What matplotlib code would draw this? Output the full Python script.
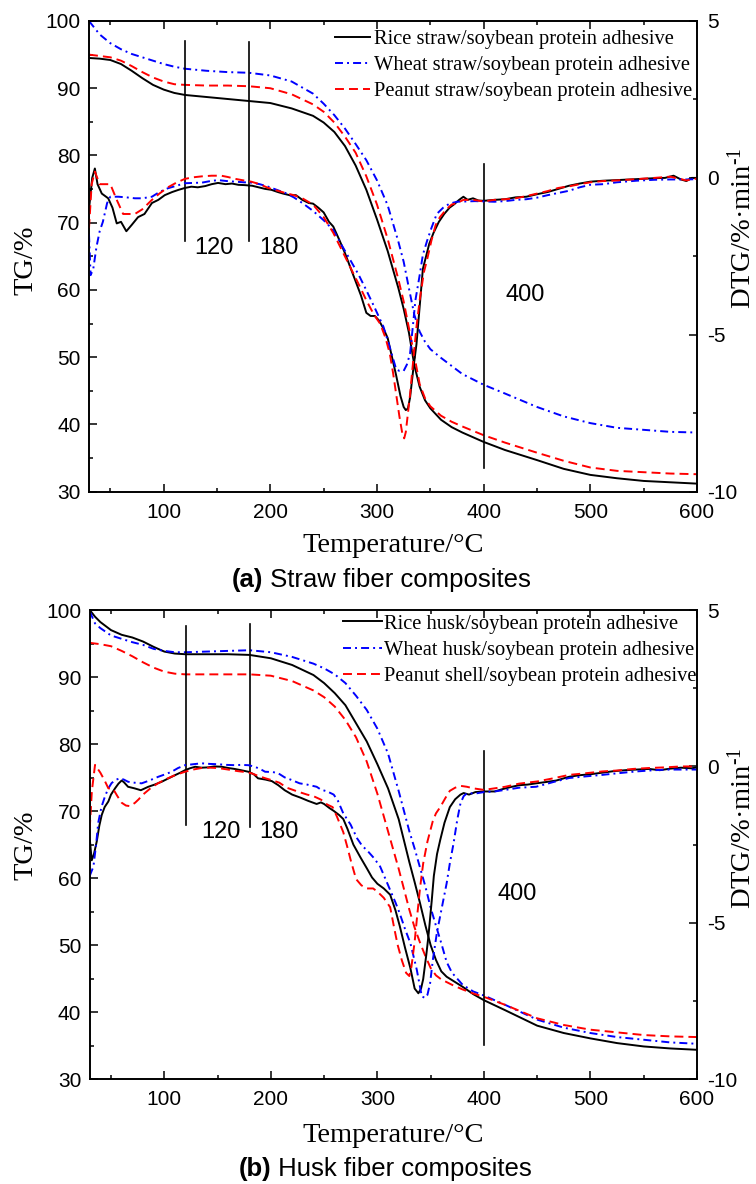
import matplotlib
matplotlib.use('Agg')
import matplotlib.pyplot as plt
from matplotlib.text import Annotation
from matplotlib.ticker import MultipleLocator

plt.rcParams['font.family'] = ['Liberation Sans', 'DejaVu Sans']
plt.rcParams['axes.unicode_minus'] = False
plt.rcParams['mathtext.fontset'] = 'custom'
plt.rcParams['mathtext.rm'] = 'Liberation Serif'
plt.rcParams['mathtext.it'] = 'Liberation Serif:italic'

# ---------------- (a) straw fibre composites ----------------
temp_tg_a = [30, 40, 50, 60, 70, 80, 90, 100, 110, 120, 140, 160, 180, 200, 220, 240, 250, 260, 270, 280,
             290, 300, 310, 320, 325, 330, 335, 340, 345, 350, 360, 370, 380, 400, 420, 450, 475, 500, 525,
             550, 575, 600]
rice_straw_tg = [94.5, 94.4, 94.2, 93.6, 92.6, 91.5, 90.5, 89.8, 89.3, 89.0, 88.7, 88.4, 88.1, 87.8, 87.0, 85.9,
                 84.9, 83.5, 81.4, 78.5, 74.9, 70.5, 65.8, 60.3, 57.2, 53.6, 48.8, 45.6, 43.6, 42.4, 40.7, 39.6,
                 38.8, 37.4, 36.2, 34.7, 33.4, 32.5, 32.0, 31.6, 31.4, 31.2]
wheat_straw_tg = [100.0, 98.0, 96.7, 95.8, 95.1, 94.6, 94.1, 93.6, 93.2, 92.9, 92.6, 92.4, 92.3, 91.9, 91.0, 89.2,
                  87.7, 86.0, 84.0, 81.7, 79.3, 76.3, 72.6, 67.2, 64.2, 60.2, 56.3, 53.8, 52.3, 51.2, 49.9, 48.7,
                  47.5, 45.9, 44.6, 42.6, 41.2, 40.2, 39.5, 39.2, 38.9, 38.8]
peanut_straw_tg = [95.0, 94.8, 94.6, 94.1, 93.3, 92.4, 91.6, 91.0, 90.6, 90.5, 90.4, 90.4, 90.3, 90.0, 89.1, 87.6,
                   86.5, 84.9, 82.8, 80.4, 76.9, 72.7, 67.6, 61.6, 58.3, 54.3, 50.2, 46.0, 43.9, 42.7, 41.3, 40.4,
                   39.7, 38.4, 37.3, 35.8, 34.6, 33.6, 33.1, 32.9, 32.7, 32.6]

temp_rice_straw_dtg = [30, 33, 35.5, 38, 42, 48, 52, 56, 60, 65, 70, 76, 82, 89, 95, 101, 108, 114, 120, 126,
                       132, 139, 145, 151, 158, 164, 170, 176, 183, 189, 195, 201, 207, 212, 218, 224, 230, 236,
                       240, 245, 250, 255, 259, 265, 270, 275, 280, 285, 290, 294, 298, 302, 306, 310, 314, 318,
                       322, 325, 327, 329, 331, 334, 337, 340, 343, 346, 349, 353, 358, 363, 368, 372, 377, 381,
                       385, 390, 395, 400, 410, 420, 430, 440, 450, 460, 470, 480, 490, 500, 512, 525, 543, 560,
                       570, 578, 585, 590, 595, 600]
rice_straw_dtg = [-1.0, 0.0, 0.3, -0.2, -0.5, -0.65, -0.95, -1.45, -1.4, -1.7, -1.5, -1.25, -1.15, -0.8, -0.7,
                  -0.55, -0.45, -0.38, -0.32, -0.28, -0.3, -0.26, -0.2, -0.16, -0.2, -0.18, -0.22, -0.23, -0.25,
                  -0.3, -0.35, -0.38, -0.45, -0.5, -0.55, -0.55, -0.7, -0.8, -0.82, -0.95, -1.1, -1.4, -1.55,
                  -2.0, -2.4, -2.85, -3.3, -3.75, -4.3, -4.4, -4.4, -4.55, -4.8, -5.1, -5.7, -6.3, -6.95, -7.3,
                  -7.4, -7.35, -7.0, -6.1, -5.3, -4.1, -2.9, -2.5, -2.1, -1.75, -1.4, -1.15, -0.95, -0.85, -0.7,
                  -0.6, -0.7, -0.65, -0.72, -0.73, -0.7, -0.68, -0.62, -0.6, -0.52, -0.45, -0.35, -0.25, -0.18,
                  -0.12, -0.09, -0.07, -0.04, -0.01, 0.0, 0.07, -0.05, -0.1, 0.0, 0.0]

temp_wheat_straw_dtg = [30, 31.5, 34, 37, 40, 43, 47, 50, 57.5, 65, 73, 80, 89, 96, 104, 112, 120, 128, 136, 144,
                        151, 159, 167, 175, 182, 190, 198, 206, 214, 222, 230, 240, 250, 259, 267, 275, 283, 290,
                        298, 306, 312, 318, 321, 325, 328, 331, 334, 336, 340, 343, 347, 351, 356, 362, 368, 375,
                        384, 392, 400, 410, 420, 430, 440, 450, 460, 470, 480, 490, 500, 512, 525, 543, 560, 575,
                        590, 600]
wheat_straw_dtg = [-1.8, -3.1, -2.9, -2.2, -1.7, -1.4, -0.8, -0.6, -0.6, -0.62, -0.65, -0.65, -0.6, -0.45, -0.33,
                   -0.25, -0.17, -0.16, -0.15, -0.1, -0.07, -0.1, -0.12, -0.14, -0.15, -0.2, -0.28, -0.38, -0.48,
                   -0.62, -0.8, -1.05, -1.35, -1.66, -2.15, -2.62, -3.1, -3.58, -4.15, -4.74, -5.4, -6.1, -6.15,
                   -6.15, -5.95, -5.6, -4.6, -3.9, -3.1, -2.45, -2.0, -1.6, -1.15, -0.95, -0.82, -0.76, -0.75,
                   -0.74, -0.75, -0.76, -0.74, -0.7, -0.68, -0.63, -0.55, -0.48, -0.41, -0.3, -0.22, -0.2, -0.14,
                   -0.09, -0.06, -0.05, -0.05, -0.04]

temp_peanut_straw_dtg = [30, 32.5, 35.5, 40, 50, 56, 62, 73, 80, 89, 96, 104, 112, 120, 128, 136, 145, 154, 160,
                         167, 175, 182, 190, 198, 206, 214, 222, 230, 240, 250, 259, 267, 275, 283, 290, 297, 303,
                         308, 312, 315, 318, 321, 324, 325.5, 327, 329, 331, 334, 337, 340, 344, 347, 351, 355, 359,
                         365, 370, 375, 381, 390, 400, 410, 420, 430, 440, 450, 460, 470, 480, 490, 500, 512, 525,
                         543, 560, 575, 585, 590, 600]
peanut_straw_dtg = [-1.6, -0.2, 0.2, -0.2, -0.2, -0.7, -1.15, -1.15, -1.0, -0.7, -0.5, -0.3, -0.15, -0.03, 0.02,
                    0.05, 0.07, 0.07, 0.03, -0.03, -0.08, -0.12, -0.2, -0.32, -0.4, -0.48, -0.55, -0.65, -0.85,
                    -1.25, -1.75, -2.3, -2.85, -3.4, -3.9, -4.35, -4.65, -5.1, -5.6, -6.2, -6.9, -7.6, -8.2, -8.3,
                    -8.1, -7.5, -6.9, -5.8, -4.75, -3.9, -3.0, -2.6, -2.0, -1.5, -1.25, -1.0, -0.85, -0.8, -0.7,
                    -0.7, -0.75, -0.7, -0.68, -0.65, -0.58, -0.5, -0.42, -0.32, -0.27, -0.2, -0.14, -0.1, -0.08,
                    -0.04, 0.0, 0.04, -0.04, -0.08, -0.02]

# ---------------- (b) husk fibre composites ----------------
temp_tg_b = [30, 35, 40, 50, 60, 70, 80, 90, 100, 110, 120, 140, 160, 180, 200, 220, 240, 250, 260, 270, 280, 290,
             300, 310, 320, 330, 335, 340, 345, 350, 355, 360, 365, 370, 380, 390, 400, 420, 450, 475, 500, 525,
             550, 575, 600]
rice_husk_tg = [100.0, 99.0, 98.2, 97.0, 96.3, 95.9, 95.3, 94.5, 93.8, 93.5, 93.4, 93.4, 93.4, 93.3, 92.8, 91.8,
                90.3, 89.1, 87.6, 85.8, 83.1, 80.4, 77.0, 73.4, 68.8, 62.4, 59.4, 56.3, 53.0, 50.0, 47.8, 46.1,
                45.3, 44.8, 43.8, 42.7, 41.8, 40.3, 38.0, 36.9, 36.1, 35.4, 34.9, 34.6, 34.4]
wheat_husk_tg = [99.8, 98.0, 97.3, 96.2, 95.7, 95.2, 94.8, 94.2, 93.9, 93.7, 93.7, 93.8, 93.9, 94.0, 93.7, 93.0,
                 92.0, 91.3, 90.4, 89.1, 87.2, 85.1, 82.3, 78.6, 73.0, 67.0, 64.4, 61.6, 58.8, 55.6, 52.9, 50.3,
                 47.5, 45.9, 44.1, 43.1, 42.5, 41.1, 38.9, 37.7, 36.9, 36.3, 35.9, 35.5, 35.3]
peanut_shell_tg = [95.1, 95.0, 94.9, 94.6, 93.9, 93.1, 92.2, 91.4, 90.8, 90.5, 90.4, 90.4, 90.4, 90.4, 90.2, 89.4,
                   88.0, 87.0, 85.6, 83.6, 81.0, 77.4, 72.6, 67.0, 61.4, 55.3, 52.6, 50.4, 48.4, 46.6, 45.5, 44.9,
                   44.5, 44.1, 43.4, 42.8, 42.3, 41.1, 39.1, 38.1, 37.4, 37.0, 36.6, 36.4, 36.3]

temp_rice_husk_dtg = [30, 31.9, 34, 36.6, 39, 41.3, 44, 47.5, 50, 53.8, 57, 60, 62, 66, 72, 78, 85, 91, 97.5, 104,
                      110, 115, 119.5, 124, 129, 135, 141, 147, 154, 160, 166, 172, 179, 184, 188, 195, 201, 207,
                      213, 220, 228, 235, 243, 247, 250, 255, 259, 264, 268, 272, 277.5, 284, 290, 295, 300, 306,
                      312, 317, 321, 326, 331, 335, 338.5, 341, 343, 346, 348, 351, 353, 356, 359, 363, 368, 373,
                      378, 381, 386, 392, 400, 410, 418, 425, 433, 441, 449, 458, 468, 480, 490, 500, 511, 522,
                      533, 543, 555, 565, 575, 585, 595, 600]
rice_husk_dtg = [-2.3, -3.0, -2.8, -2.4, -1.9, -1.55, -1.3, -1.12, -0.9, -0.7, -0.55, -0.45, -0.5, -0.65, -0.7,
                 -0.76, -0.65, -0.58, -0.49, -0.38, -0.28, -0.2, -0.12, -0.06, -0.01, -0.04, -0.03, 0.0, -0.01,
                 -0.05, -0.08, -0.12, -0.17, -0.25, -0.38, -0.42, -0.47, -0.6, -0.76, -0.9, -1.0, -1.1, -1.2,
                 -1.15, -1.2, -1.33, -1.42, -1.55, -1.68, -2.0, -2.5, -2.9, -3.25, -3.55, -3.75, -3.9, -4.1, -4.6,
                 -5.1, -5.8, -6.45, -7.1, -7.25, -7.1, -6.8, -6.0, -5.4, -4.3, -3.5, -2.8, -2.35, -1.8, -1.3,
                 -1.05, -0.9, -0.85, -0.9, -0.82, -0.8, -0.8, -0.72, -0.66, -0.6, -0.58, -0.54, -0.5, -0.45, -0.33,
                 -0.28, -0.25, -0.2, -0.15, -0.12, -0.1, -0.08, -0.12, -0.07, -0.04, -0.06, -0.03]

temp_wheat_husk_dtg = [30, 33.5, 36, 38, 41, 44.4, 47.5, 50.6, 55, 58.4, 62, 66, 72, 78.8, 86, 94.4, 101, 106.9,
                       113, 119.5, 127, 135, 143, 150.7, 158, 166.4, 172, 178.9, 184, 190, 194.6, 202, 207, 213,
                       218.5, 227, 234, 243, 247, 253, 259, 263, 268, 274.9, 281, 286, 290, 296.8, 302.6, 307, 312,
                       317, 321, 326, 331, 337, 341.7, 344.8, 347, 349.5, 352, 355.8, 360, 365, 368, 371.5, 375,
                       378, 381, 384, 393, 400, 410, 420, 433, 449, 465, 480, 495, 511, 525, 543, 560, 574, 590, 600]
wheat_husk_dtg = [-3.5, -3.2, -2.5, -1.8, -1.3, -0.95, -0.7, -0.53, -0.42, -0.38, -0.42, -0.49, -0.52, -0.54,
                  -0.45, -0.33, -0.25, -0.17, -0.05, 0.04, 0.07, 0.1, 0.08, 0.07, 0.05, 0.04, 0.05, 0.04, 0.0,
                  -0.08, -0.17, -0.18, -0.22, -0.35, -0.42, -0.54, -0.58, -0.65, -0.74, -0.8, -0.9, -1.1, -1.5,
                  -1.86, -2.3, -2.55, -2.67, -2.93, -3.2, -3.55, -3.95, -4.35, -4.7, -5.2, -5.65, -6.5, -7.35,
                  -7.4, -7.3, -6.93, -6.2, -5.33, -4.6, -3.74, -3.1, -2.46, -1.7, -1.18, -0.95, -0.86, -0.86,
                  -0.82, -0.8, -0.75, -0.68, -0.65, -0.5, -0.37, -0.32, -0.27, -0.22, -0.16, -0.12, -0.1, -0.1,
                  -0.1]

temp_peanut_shell_dtg = [30, 32, 35, 38, 40, 44, 47.5, 52, 56, 60, 64, 68, 72.6, 76, 80, 87, 94, 102, 110, 119.5,
                         127, 135, 143, 150, 160, 169, 176, 182, 188, 195, 202, 208, 215, 225, 234, 240, 247, 253,
                         258, 262, 268, 272, 275, 280, 285, 290, 296, 300, 306, 312, 316, 319, 323, 327, 330, 332,
                         335, 337, 340, 343, 347, 352, 355, 359, 364, 368, 373, 378, 384, 390, 400, 410, 420, 433,
                         450, 465, 480, 495, 511, 525, 540, 555, 570, 585, 600]
peanut_shell_dtg = [-2.0, -0.8, 0.05, -0.1, -0.2, -0.45, -0.7, -0.72, -0.95, -1.16, -1.25, -1.27, -1.16, -1.05,
                    -0.9, -0.7, -0.54, -0.4, -0.28, -0.17, -0.1, -0.05, -0.04, -0.05, -0.1, -0.15, -0.18, -0.22,
                    -0.3, -0.38, -0.45, -0.52, -0.68, -0.8, -0.9, -0.95, -1.06, -1.22, -1.3, -1.6, -2.1, -2.6,
                    -3.0, -3.6, -3.8, -3.9, -3.9, -4.0, -4.2, -4.5, -5.2, -5.7, -6.2, -6.6, -6.7, -6.4, -5.6, -4.9,
                    -3.9, -3.1, -2.4, -1.75, -1.5, -1.3, -1.0, -0.78, -0.68, -0.62, -0.65, -0.7, -0.75, -0.7,
                    -0.65, -0.55, -0.48, -0.38, -0.27, -0.22, -0.16, -0.13, -0.08, -0.05, -0.03, 0.0, 0.0]

labels_a = ['Rice straw/soybean protein adhesive', 'Wheat straw/soybean protein adhesive',
            'Peanut straw/soybean protein adhesive']
labels_b = ['Rice husk/soybean protein adhesive', 'Wheat husk/soybean protein adhesive',
            'Peanut shell/soybean protein adhesive']

W, H = 756, 1184
fig = plt.figure(figsize=(W / 100, H / 100), dpi=100)

colors = ['black', 'blue', 'red']
styles = ['-', (0, (4.1, 2.1, 1.0, 2.1)), (0, (4.6, 2.6))]
serif = 'Liberation Serif'


def fx(px):
    return px / W


def fy(py):
    return 1 - py / H


def panel(rect, t_tg, tgs, t_dtgs, dtgs, labels, marks, texts, leg_anchor, hlen, hpad):
    ax = fig.add_axes(rect)
    ax2 = ax.twinx()
    lines = []
    for y, c, s, lab in zip(tgs, colors, styles, labels):
        l, = ax.plot(t_tg, y, color=c, linestyle=s, lw=1.4, label=lab)
        lines.append(l)
    for t, y, c, s in zip(t_dtgs, dtgs, colors, styles):
        ax2.plot(t, y, color=c, linestyle=s, lw=1.4)
    # marker lines at 120, 180 and 400 degC
    for x, y0, y1 in marks:
        ax.plot([x, x], [y0, y1], color='black', lw=1.2)
    for x, y, s in texts:
        ax.text(x, y, s, fontsize=17, ha='left', va='center')

    ax.set_xlim(30, 600)
    ax.set_ylim(30, 100)
    ax2.set_ylim(-10, 5)
    ax.xaxis.set_major_locator(MultipleLocator(100))
    ax.xaxis.set_minor_locator(MultipleLocator(50))
    ax.yaxis.set_major_locator(MultipleLocator(10))
    ax.yaxis.set_minor_locator(MultipleLocator(5))
    ax2.yaxis.set_major_locator(MultipleLocator(5))
    ax2.yaxis.set_minor_locator(MultipleLocator(2.5))
    ax.tick_params(which='both', direction='in', labelsize=15, width=1.1, top=True)
    ax.tick_params(which='major', length=5.5)
    ax.tick_params(which='minor', length=3)
    ax.tick_params(axis='x', pad=8)
    ax.tick_params(axis='y', pad=6)
    ax2.tick_params(which='both', direction='in', labelsize=15, width=1.1, pad=7)
    ax2.tick_params(which='major', length=5.5)
    ax2.tick_params(which='minor', length=3)
    for a in (ax, ax2):
        for sp in a.spines.values():
            sp.set_linewidth(1.2)

    ax.legend(handles=lines, loc='upper left', bbox_to_anchor=leg_anchor, frameon=False,
              prop={'family': serif, 'size': 14.8}, handlelength=hlen, handletextpad=hpad,
              labelspacing=0.33, borderpad=0, borderaxespad=0)
    return ax, ax2


panel([fx(89), fy(491.7), fx(697) - fx(89), fy(21) - fy(491.7)],
      temp_tg_a, [rice_straw_tg, wheat_straw_tg, peanut_straw_tg],
      [temp_rice_straw_dtg, temp_wheat_straw_dtg, temp_peanut_straw_dtg],
      [rice_straw_dtg, wheat_straw_dtg, peanut_straw_dtg], labels_a,
      [(120, 67.3, 97.1), (180, 67.3, 96.9), (400, 33.5, 78.7)],
      [(129, 66.2, '120'), (190, 66.2, '180'), (420, 59.2, '400')],
      (0.404, 0.982), 1.7, 0.2)

panel([fx(89.7), fy(1079.3), fx(697) - fx(89.7), fy(610) - fy(1079.3)],
      temp_tg_b, [rice_husk_tg, wheat_husk_tg, peanut_shell_tg],
      [temp_rice_husk_dtg, temp_wheat_husk_dtg, temp_peanut_shell_dtg],
      [rice_husk_dtg, wheat_husk_dtg, peanut_shell_dtg], labels_b,
      [(120, 67.9, 97.6), (180, 67.7, 97.9), (400, 35.1, 78.9)],
      [(135, 66.9, '120'), (189, 66.9, '180'), (413, 57.6, '400')],
      (0.417, 0.991), 1.9, 0.12)

# axis titles and captions
for yc, yr, xb in [(260, 228, 552), (845, 828, 1141.7)]:
    fig.text(fx(26), fy(yc), 'TG/%', family=serif, fontsize=20.5, rotation=90, ha='center', va='center')
    fig.text(fx(742), fy(yr), r'DTG/%·min$^{\text{-1}}$', family=serif, fontsize=20.5, rotation=90,
             ha='center', va='center')
    fig.text(fx(393.3), fy(xb), 'Temperature/°C', family=serif, fontsize=20.5, ha='center', va='baseline')

t1 = fig.text(fx(231.7), fy(587), '(a)', fontsize=18.5, weight='bold', ha='left', va='baseline')
fig.add_artist(Annotation(' Straw fiber composites', xy=(1, 0), xycoords=t1,
                          fontsize=18.5, ha='left', va='bottom'))
t2 = fig.text(fx(238.3), fy(1176), '(b)', fontsize=18.5, weight='bold', ha='left', va='baseline')
fig.add_artist(Annotation(' Husk fiber composites', xy=(1, 0), xycoords=t2,
                          fontsize=18.5, ha='left', va='bottom'))

fig.savefig('out.png', dpi=100)
